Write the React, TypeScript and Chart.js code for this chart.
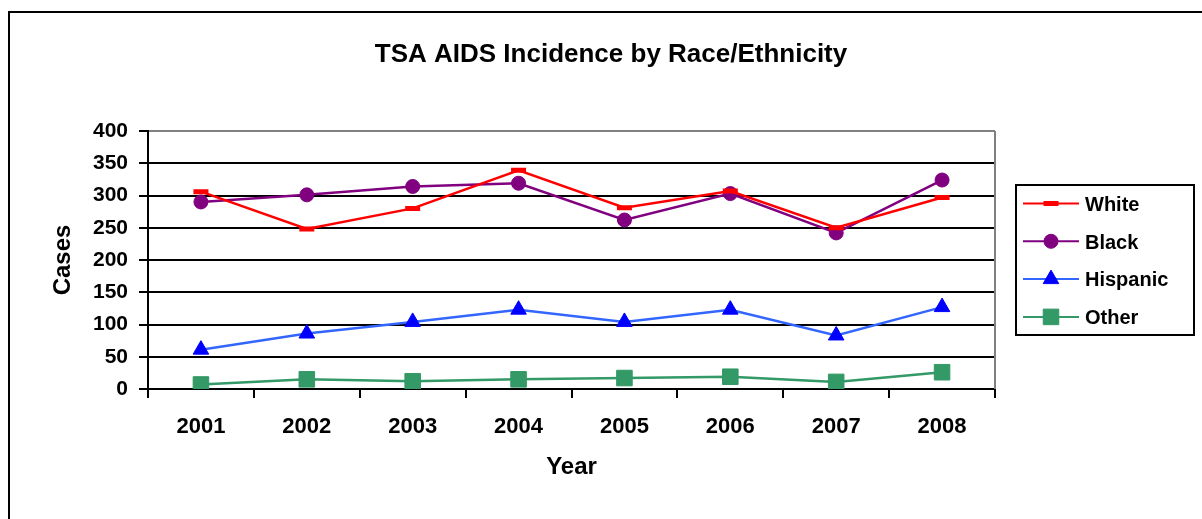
import React, { useEffect, useRef } from 'react';
import { Chart, registerables } from 'chart.js';
import { drawPoint } from 'chart.js/helpers';

Chart.register(...registerables);

const years = ['2001', '2002', '2003', '2004', '2005', '2006', '2007', '2008'];
const white = [306, 248, 280, 339, 281, 307, 250, 297];
const black = [290, 301, 314, 319, 262, 303, 242, 324];
const hispanic = [61, 86, 104, 123, 104, 123, 83, 127];
const other = [7, 15, 12, 15, 17, 19, 11, 26];

const yMin = 0;
const yMax = 400;
const yStep = 50;

const chartTitle = 'TSA AIDS Incidence by Race/Ethnicity';
const xTitle = 'Year';
const yTitle = 'Cases';

const FONT = "'Liberation Sans', Arial, sans-serif";

const framePlugin = {
  id: 'frame',
  beforeDraw(chart: any) {
    const { ctx } = chart;
    ctx.save();
    ctx.fillStyle = '#ffffff';
    ctx.fillRect(0, 0, chart.width, chart.height);
    ctx.fillStyle = '#000000';
    ctx.fillRect(8, 11, 2, chart.height);
    ctx.fillRect(8, 11, chart.width, 2);
    ctx.restore();
  },
  beforeDatasetsDraw(chart: any) {
    const { ctx, chartArea } = chart;
    ctx.save();
    ctx.strokeStyle = '#808080';
    ctx.lineWidth = 2;
    ctx.beginPath();
    ctx.moveTo(chartArea.right, chartArea.top);
    ctx.lineTo(chartArea.right, chartArea.bottom);
    ctx.stroke();
    ctx.restore();
  },
  afterDraw(chart: any) {
    const { ctx } = chart;
    ctx.save();
    // title
    ctx.fillStyle = '#000';
    ctx.font = `bold 26px ${FONT}`;
    ctx.textAlign = 'center';
    ctx.textBaseline = 'alphabetic';
    ctx.fillText(chartTitle, 611, 62);

    // legend box
    ctx.lineWidth = 2;
    ctx.strokeStyle = '#000';
    ctx.strokeRect(1016, 185, 178, 150);
    chart.data.datasets.forEach((ds: any, i: number) => {
      const y = 203.5 + i * 37.8;
      ctx.strokeStyle = ds.borderColor;
      ctx.lineWidth = 2;
      ctx.beginPath();
      ctx.moveTo(1023, y);
      ctx.lineTo(1079, y);
      ctx.stroke();
      ctx.fillStyle = ds.pointBackgroundColor;
      ctx.strokeStyle = ds.pointBorderColor;
      ctx.lineWidth = ds.pointBorderWidth;
      drawPoint(ctx, {
        pointStyle: ds.pointStyle,
        radius: ds.pointRadius,
        borderWidth: ds.pointBorderWidth,
        rotation: 0,
      } as any, 1051, y);
      ctx.fillStyle = '#000';
      ctx.font = `bold 20px ${FONT}`;
      ctx.textAlign = 'left';
      ctx.textBaseline = 'alphabetic';
      ctx.fillText(ds.label, 1085, y + 7.3);
    });
    ctx.restore();
  },
};

export default function App() {
  const canvasRef = useRef<HTMLCanvasElement | null>(null);

  useEffect(() => {
    const canvas = canvasRef.current;
    if (!canvas) return;
    const chart = new Chart(canvas, {
      type: 'line',
      data: {
        labels: years,
        datasets: [
          {
            label: 'White',
            data: white,
            borderColor: '#FF0000',
            borderWidth: 2.5,
            pointStyle: 'line',
            pointRadius: 7.5,
            pointBorderWidth: 5,
            pointBackgroundColor: '#FF0000',
            pointBorderColor: '#FF0000',
            tension: 0,
          },
          {
            label: 'Black',
            data: black,
            borderColor: '#800080',
            borderWidth: 2.5,
            pointStyle: 'circle',
            pointRadius: 7,
            pointBorderWidth: 1,
            pointBackgroundColor: '#800080',
            pointBorderColor: '#800080',
            tension: 0,
          },
          {
            label: 'Hispanic',
            data: hispanic,
            borderColor: '#3366FF',
            borderWidth: 2.5,
            pointStyle: 'triangle',
            pointRadius: 9,
            pointBorderWidth: 1,
            pointBackgroundColor: '#0000FF',
            pointBorderColor: '#0000FF',
            tension: 0,
          },
          {
            label: 'Other',
            data: other,
            borderColor: '#339966',
            borderWidth: 2.5,
            pointStyle: 'rect',
            pointRadius: 11,
            pointBorderWidth: 1,
            pointBackgroundColor: '#339966',
            pointBorderColor: '#339966',
            tension: 0,
          },
        ],
      },
      options: {
        responsive: false,
        animation: false,
        events: [],
        layout: {
          padding: { left: 45, top: 131, right: 207, bottom: 33 },
        },
        plugins: {
          legend: { display: false },
          title: { display: false },
          tooltip: { enabled: false },
        },
        scales: {
          x: {
            type: 'category',
            offset: true,
            grid: {
              display: true,
              offset: true,
              drawOnChartArea: false,
              drawTicks: true,
              tickLength: 9,
              color: '#000',
              lineWidth: 2,
            },
            border: { display: true, color: '#000', width: 2 },
            ticks: {
              color: '#000',
              font: { family: FONT, size: 22, weight: 'bold' },
              padding: 16,
              maxRotation: 0,
              autoSkip: false,
            },
            title: {
              display: true,
              text: xTitle,
              color: '#000',
              font: { family: FONT, size: 24, weight: 'bold' },
              padding: { top: 4, bottom: 4 },
            },
            afterFit(scale: any) {
              scale.height = 97;
            },
          },
          y: {
            min: yMin,
            max: yMax,
            ticks: {
              stepSize: yStep,
              color: '#000',
              font: { family: FONT, size: 21, weight: 'bold' },
              padding: 11,
            },
            grid: {
              color: (ctx: any) => (ctx.tick && ctx.tick.value === yMax ? '#808080' : '#000'),
              tickColor: '#000',
              lineWidth: 2,
              tickLength: 9,
              drawTicks: true,
            },
            border: { display: true, color: '#000', width: 2 },
            title: {
              display: true,
              text: yTitle,
              color: '#000',
              font: { family: FONT, size: 24, weight: 'bold' },
              padding: { top: 4, bottom: 4 },
            },
            afterFit(scale: any) {
              scale.width = 103;
            },
          },
        },
      },
      plugins: [framePlugin],
    });
    return () => chart.destroy();
  }, []);

  return (
    <div style={{ position: 'absolute', left: 0, top: 0, width: 1202, height: 519, overflow: 'hidden' }}>
      <canvas ref={canvasRef} width={1202} height={519} style={{ display: 'block' }} />
    </div>
  );
}
